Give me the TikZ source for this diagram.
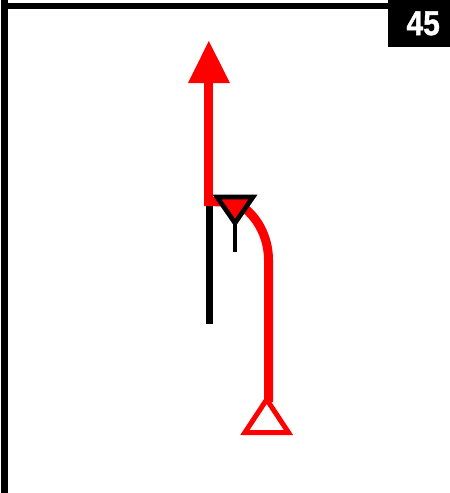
\documentclass[tikz,border=0pt]{standalone}
\usepackage{fontspec}
\setmainfont{Liberation Sans}
\newfontfamily\numfont[UprightFont={* Bold},FakeBold=1.2]{Liberation Sans}
\begin{document}
\begin{tikzpicture}[x=1pt,y=-1pt,
  frame/.style={black,line width=6.3pt,line cap=butt},
  route/.style={red,line width=9pt,line cap=butt},
  track/.style={black,line width=7pt},
  sign/.style={black,line width=4.7pt,miter limit=10},
  badge/.style={fill=black,draw=none,text=white,inner sep=0pt,minimum width=62pt,minimum height=47pt,font=\numfont\fontsize{34.5}{34.5}\selectfont}]
\useasboundingbox (0,0) rectangle (450,493);
\fill[white] (0,0) rectangle (450,493);
% frame
\coordinate (tl) at (8,6);
\coordinate (tr) at (450,6);
\coordinate (lt) at (4.5,0);
\coordinate (lb) at (4.5,493);
\draw[frame] (tl) -- (tr);
\draw[frame,line width=7pt] (lt) -- (lb);
\node[badge,anchor=north west] (num) at (388,0) {\hspace*{8pt}\raisebox{1pt}{\scalebox{0.87}[1]{45}}};
% black track
\coordinate (t1) at (209.2,206);
\coordinate (t2) at (209.2,323.5);
\draw[track] (t1) -- (t2);
% red route
\coordinate (arrowApex) at (208.8,41);
\coordinate (arrowL) at (188,83);
\coordinate (arrowR) at (230,83);
\coordinate (arrowBase) at (208.6,83);
\coordinate (corner) at (208.6,206);
\coordinate (bend) at (235,202);
\coordinate (curveEnd) at (268.5,260);
\coordinate (start) at (268.5,402);
\fill[red] (arrowApex) -- (arrowR) -- (arrowL) -- cycle;
\draw[route] (arrowBase) -- (corner);
\draw[route] (204.1,201.6) -- (bend) .. controls (255,212) and (268.5,235) .. (curveEnd) -- (start);
% start triangle
\coordinate (s1) at (266.7,399.5);
\coordinate (s2) at (288.5,432.5);
\coordinate (s3) at (244.9,432.5);
\draw[red,line width=5pt,fill=white] (s1) -- (s2) -- (s3) -- cycle;
% signal
\coordinate (stemTop) at (235,222);
\coordinate (stemEnd) at (235,252);
\coordinate (g1) at (217,197);
\coordinate (g2) at (253,197);
\coordinate (g3) at (235,223);
\draw[black,line width=4.7pt] (stemTop) -- (stemEnd);
\draw[sign,fill=red] (g1) -- (g2) -- (g3) -- cycle;
\end{tikzpicture}
\end{document}
